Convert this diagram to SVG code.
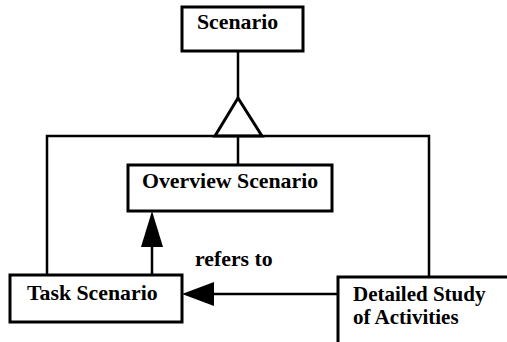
<svg xmlns="http://www.w3.org/2000/svg" width="507" height="342" viewBox="0 0 507 342">
<style>
.box{fill:#fff;stroke:#000;stroke-width:3}
.ln{fill:none;stroke:#000;stroke-width:2.5}
text{font-family:"Liberation Serif","Times New Roman",serif;font-weight:bold;font-size:21.8px;fill:#000}
</style>
<rect width="507" height="342" fill="#fff"/>
<g id="connectors">
<line class="ln" x1="238" y1="51" x2="238" y2="98"/>
<polygon points="238,98 215,136 262,136" fill="#fff" stroke="#000" stroke-width="3" stroke-linejoin="miter"/>
<polyline class="ln" points="47,275 47,136 429,136 429,277"/>
<line class="ln" x1="238" y1="136" x2="238" y2="165"/>
<line class="ln" x1="152" y1="275" x2="152" y2="240"/>
<polygon points="152,211 141,247 163,247" fill="#000"/>
<line class="ln" x1="338" y1="294" x2="205" y2="294"/>
<polygon points="182,294 214,282 214,306" fill="#000"/>
<text x="195" y="266">refers to</text>
</g>
<g id="scenario">
<rect class="box" x="182" y="7" width="121" height="44"/>
<text x="197" y="29">Scenario</text>
</g>
<g id="overview">
<rect class="box" x="128" y="165" width="204" height="46"/>
<text x="142" y="188">Overview Scenario</text>
</g>
<g id="task">
<rect class="box" x="10" y="275" width="172" height="47"/>
<text x="27" y="300">Task Scenario</text>
</g>
<g id="detailed">
<rect class="box" x="338" y="277" width="180" height="80"/>
<text x="353" y="301" style="font-size:21px">Detailed Study</text>
<text x="353" y="324" style="font-size:21px">of Activities</text>
</g>
</svg>
